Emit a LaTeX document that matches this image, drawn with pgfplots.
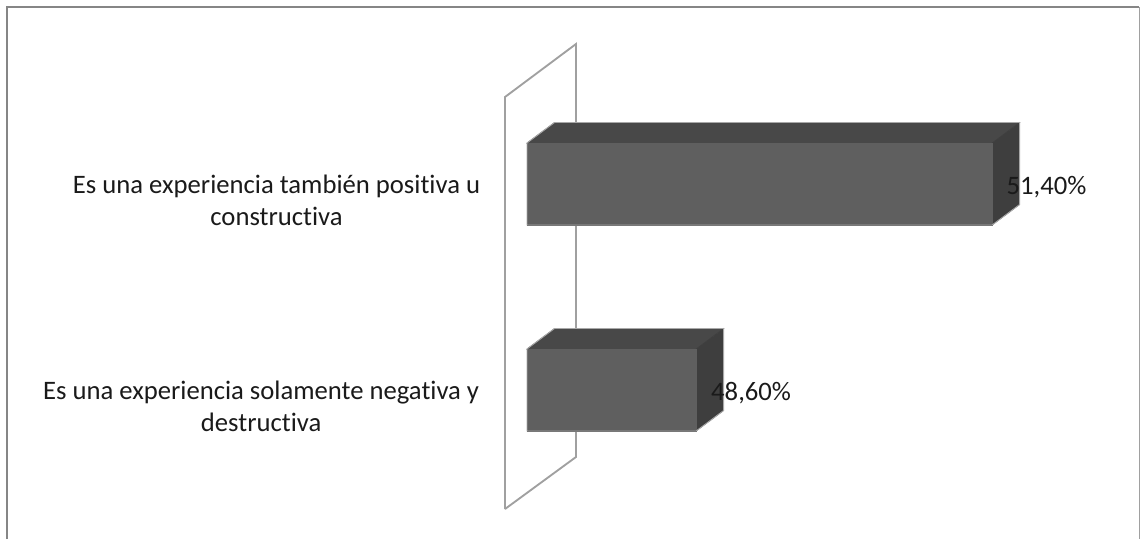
\documentclass[border=0pt]{standalone}
\usepackage{fontspec}
\setmainfont{Carlito}[Ligatures=NoCommon]
\usepackage{pgfplots}
\pgfplotsset{compat=1.18}
\definecolor{barfront}{HTML}{5F5F5F}
\definecolor{bartop}{HTML}{484848}
\definecolor{barside}{HTML}{3E3E3E}
\definecolor{barline}{HTML}{A8A8A8}
\definecolor{wallc}{HTML}{A0A0A0}
\definecolor{framec}{HTML}{868686}
\definecolor{txt}{HTML}{1A1A1A}
\tikzset{lab/.style={font=\fontsize{20}{24.5}\selectfont, text=txt, align=center, inner sep=0pt}}
\begin{document}
\begin{tikzpicture}
\useasboundingbox (0,0) rectangle (855.75pt,404.25pt);
\begin{axis}[
  at={(0,0)}, anchor=south west,
  scale only axis, width=855.75pt, height=404.25pt,
  axis lines=none, clip=false,
  xmin=42.015, xmax=52.808, ymin=-0.7233, ymax=1.8932,
  every axis plot/.append style={mark=none},
]
% chart frame
\addplot[framec, line width=2pt] coordinates {(42.081,-0.7233)(42.081,1.8592)(52.79,1.8592)};
\addplot[wallc, line width=0.9pt] coordinates {(52.79,1.8592)(52.79,-0.7233)};
% wall
\addplot[wallc, line width=1.4pt] coordinates {(46.792,-0.5777)(46.792,1.4223)(47.4635,1.6796)(47.4635,-0.3252)(46.792,-0.5777)};
% bar 48.6
\addplot[fill=bartop, draw=bartop, line width=0.4pt] coordinates {(47,0.199)(48.6,0.199)(48.86,0.2985)(47.26,0.2985)} -- cycle;
\addplot[fill=barside, draw=barside, line width=0.4pt] coordinates {(48.6,-0.199)(48.86,-0.0995)(48.86,0.2985)(48.6,0.199)} -- cycle;
\addplot[fill=barfront, draw=barfront, line width=0.4pt] coordinates {(47,-0.199)(48.6,-0.199)(48.6,0.199)(47,0.199)} -- cycle;
\addplot[barline, line width=0.7pt] coordinates {(47,0.199)(47.26,0.2985)(48.86,0.2985)(48.86,-0.0995)(48.6,-0.199)(47,-0.199)(47,0.199)};
% bar 51.4
\addplot[fill=bartop, draw=bartop, line width=0.4pt] coordinates {(47,1.199)(51.4,1.199)(51.66,1.2985)(47.26,1.2985)} -- cycle;
\addplot[fill=barside, draw=barside, line width=0.4pt] coordinates {(51.4,0.801)(51.66,0.9005)(51.66,1.2985)(51.4,1.199)} -- cycle;
\addplot[fill=barfront, draw=barfront, line width=0.4pt] coordinates {(47,0.801)(51.4,0.801)(51.4,1.199)(47,1.199)} -- cycle;
\addplot[barline, line width=0.7pt] coordinates {(47,1.199)(47.26,1.2985)(51.66,1.2985)(51.66,0.9005)(51.4,0.801)(47,0.801)(47,1.199)};
% labels
\node[lab, anchor=west] at (axis cs:51.534,0.985) {51,40\%};
\node[lab, anchor=west] at (axis cs:48.74,-0.015) {48,60\%};
\node[lab, anchor=center] at (axis cs:44.631,0.92) {Es una experiencia también positiva u\\constructiva};
\node[lab, anchor=center] at (axis cs:44.485,-0.08) {Es una experiencia solamente negativa y\\destructiva};
\end{axis}
\end{tikzpicture}
\end{document}
